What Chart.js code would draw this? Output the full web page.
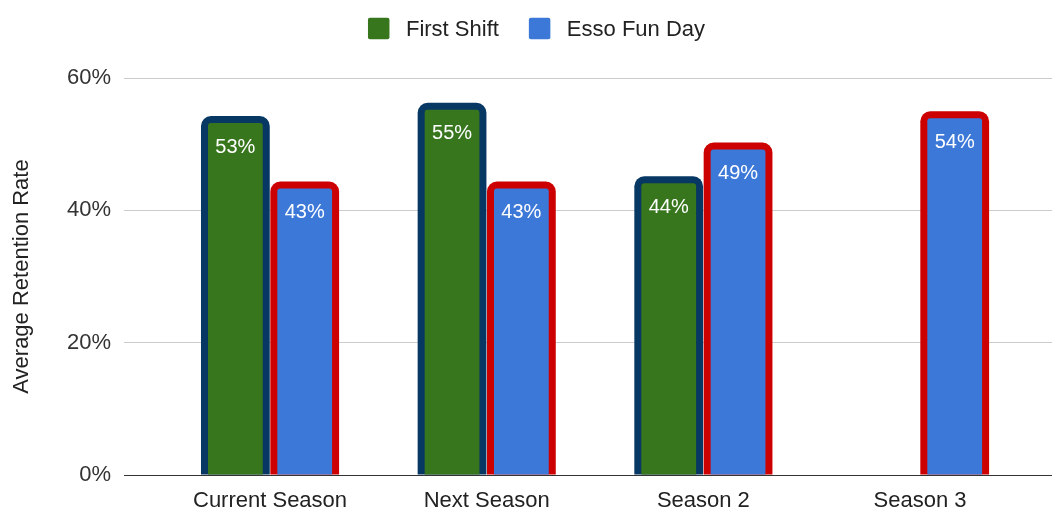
<!DOCTYPE html>
<html>
<head>
<meta charset="utf-8">
<script src="https://cdn.jsdelivr.net/npm/chart.js@4.4.1/dist/chart.umd.min.js"></script>
<style>
html,body{margin:0;padding:0;background:#fff;}
#wrap{width:1052px;height:510px;position:relative;}
</style>
</head>
<body>
<div id="wrap"><canvas id="c"></canvas></div>
<script>
// ---- data ----
const categories = ['Current Season', 'Next Season', 'Season 2', 'Season 3'];
const seriesNames = ['First Shift', 'Esso Fun Day'];
const firstShift = [53.2, 55.2, 44.1, null];
const essoFunDay = [43.3, 43.3, 49.2, 53.9];
const yTicks = [0, 20, 40, 60];

const FONT = '"Liberation Sans", Arial, Helvetica, sans-serif';
Chart.defaults.font.family = FONT;

const outlinePlugin = {
  id: 'outline',
  beforeDatasetsDraw(chart) {
    const ctx = chart.ctx;
    chart.data.datasets.forEach((ds, di) => {
      const meta = chart.getDatasetMeta(di);
      if (meta.hidden) return;
      meta.data.forEach((el, i) => {
        const raw = ds.data[i];
        if (!raw || raw.y == null) return;
        const p = el.getProps(['x', 'y', 'base', 'width'], true);
        const bw = 7, r = 10;
        const l = p.x - p.width / 2 - bw, rt = p.x + p.width / 2 + bw, t = p.y - bw;
        ctx.save();
        ctx.fillStyle = ds.outlineColor;
        ctx.beginPath();
        ctx.moveTo(l, p.base);
        ctx.lineTo(l, t + r);
        ctx.arcTo(l, t, l + r, t, r);
        ctx.lineTo(rt - r, t);
        ctx.arcTo(rt, t, rt, t + r, r);
        ctx.lineTo(rt, p.base);
        ctx.closePath();
        ctx.fill();
        ctx.restore();
      });
    });
  },
  afterDatasetsDraw(chart) {
    const ctx = chart.ctx;
    ctx.save();
    ctx.font = '20px ' + FONT;
    ctx.fillStyle = '#ffffff';
    ctx.textAlign = 'center';
    ctx.textBaseline = 'middle';
    chart.data.datasets.forEach((ds, di) => {
      const meta = chart.getDatasetMeta(di);
      if (meta.hidden) return;
      meta.data.forEach((el, i) => {
        const raw = ds.data[i];
        if (!raw || raw.y == null) return;
        const p = el.getProps(['x', 'y'], true);
        ctx.fillText(Math.round(raw.y) + '%', p.x, p.y + 24);
      });
    });
    ctx.restore();
  }
};

const legendPlugin = {
  id: 'customLegend',
  afterDraw(chart) {
    const ctx = chart.ctx;
    ctx.save();
    ctx.font = '22px ' + FONT;
    const items = chart.data.datasets.map(ds => ({
      text: ds.label, color: ds.backgroundColor, w: ctx.measureText(ds.label).width
    }));
    const box = 21.5, gapText = 16.5, gapItem = 30;
    let total = 0;
    items.forEach((it, k) => { total += box + gapText + it.w + (k ? gapItem : 0); });
    let x = chart.width / 2 + 10.5 - total / 2;
    const cy = 28.5;
    items.forEach((it, k) => {
      if (k) x += gapItem;
      ctx.fillStyle = it.color;
      ctx.beginPath();
      if (ctx.roundRect) ctx.roundRect(x, cy - box / 2, box, box, 2);
      else ctx.rect(x, cy - box / 2, box, box);
      ctx.fill();
      x += box + gapText;
      ctx.fillStyle = '#222222';
      ctx.textAlign = 'left';
      ctx.textBaseline = 'middle';
      ctx.fillText(it.text, x, cy + 1);
      x += it.w;
    });
    ctx.restore();
  }
};

const toPoints = arr => categories.map((c, i) => ({ x: i, y: arr[i] }));

new Chart(document.getElementById('c'), {
  type: 'bar',
  data: {
    datasets: [
      {
        label: seriesNames[0],
        data: toPoints(firstShift),
        backgroundColor: '#38761d',
        outlineColor: '#073763',
        borderWidth: 0,
        borderRadius: 3,
        categoryPercentage: 0.64,
        barPercentage: 0.79
      },
      {
        label: seriesNames[1],
        data: toPoints(essoFunDay),
        backgroundColor: '#3c78d8',
        outlineColor: '#cc0000',
        borderWidth: 0,
        borderRadius: 3,
        categoryPercentage: 0.64,
        barPercentage: 0.79
      }
    ]
  },
  options: {
    responsive: true,
    maintainAspectRatio: false,
    animation: false,
    layout: { padding: { top: 78, right: 0, bottom: 0, left: 0 } },
    plugins: {
      legend: { display: false },
      tooltip: { enabled: false }
    },
    scales: {
      x: {
        type: 'linear',
        min: -0.674,
        max: 3.609,
        offset: false,
        afterBuildTicks: s => { s.ticks = categories.map((c, i) => ({ value: i })); },
        ticks: {
          callback: v => categories[v],
          padding: 5,
          autoSkip: false,
          maxRotation: 0,
          font: { size: 22 },
          color: '#222222'
        },
        grid: { display: false },
        border: { display: false },
        afterFit: s => { s.height = 35; }
      },
      y: {
        min: 0,
        max: 60,
        afterBuildTicks: s => { s.ticks = yTicks.map(v => ({ value: v })); },
        ticks: {
          callback: v => v + '%',
          padding: 13,
          font: { size: 22 },
          color: '#333333'
        },
        grid: {
          drawTicks: false,
          color: c => (c.tick && c.tick.value === 0) ? '#333333' : '#cccccc',
          lineWidth: 1
        },
        border: { display: false },
        title: {
          display: true,
          text: 'Average Retention Rate',
          font: { size: 22 },
          color: '#222222',
          padding: { top: 9, bottom: 0 }
        },
        afterFit: s => { s.width = 124; }
      }
    }
  },
  plugins: [outlinePlugin, legendPlugin]
});
</script>
</body>
</html>
